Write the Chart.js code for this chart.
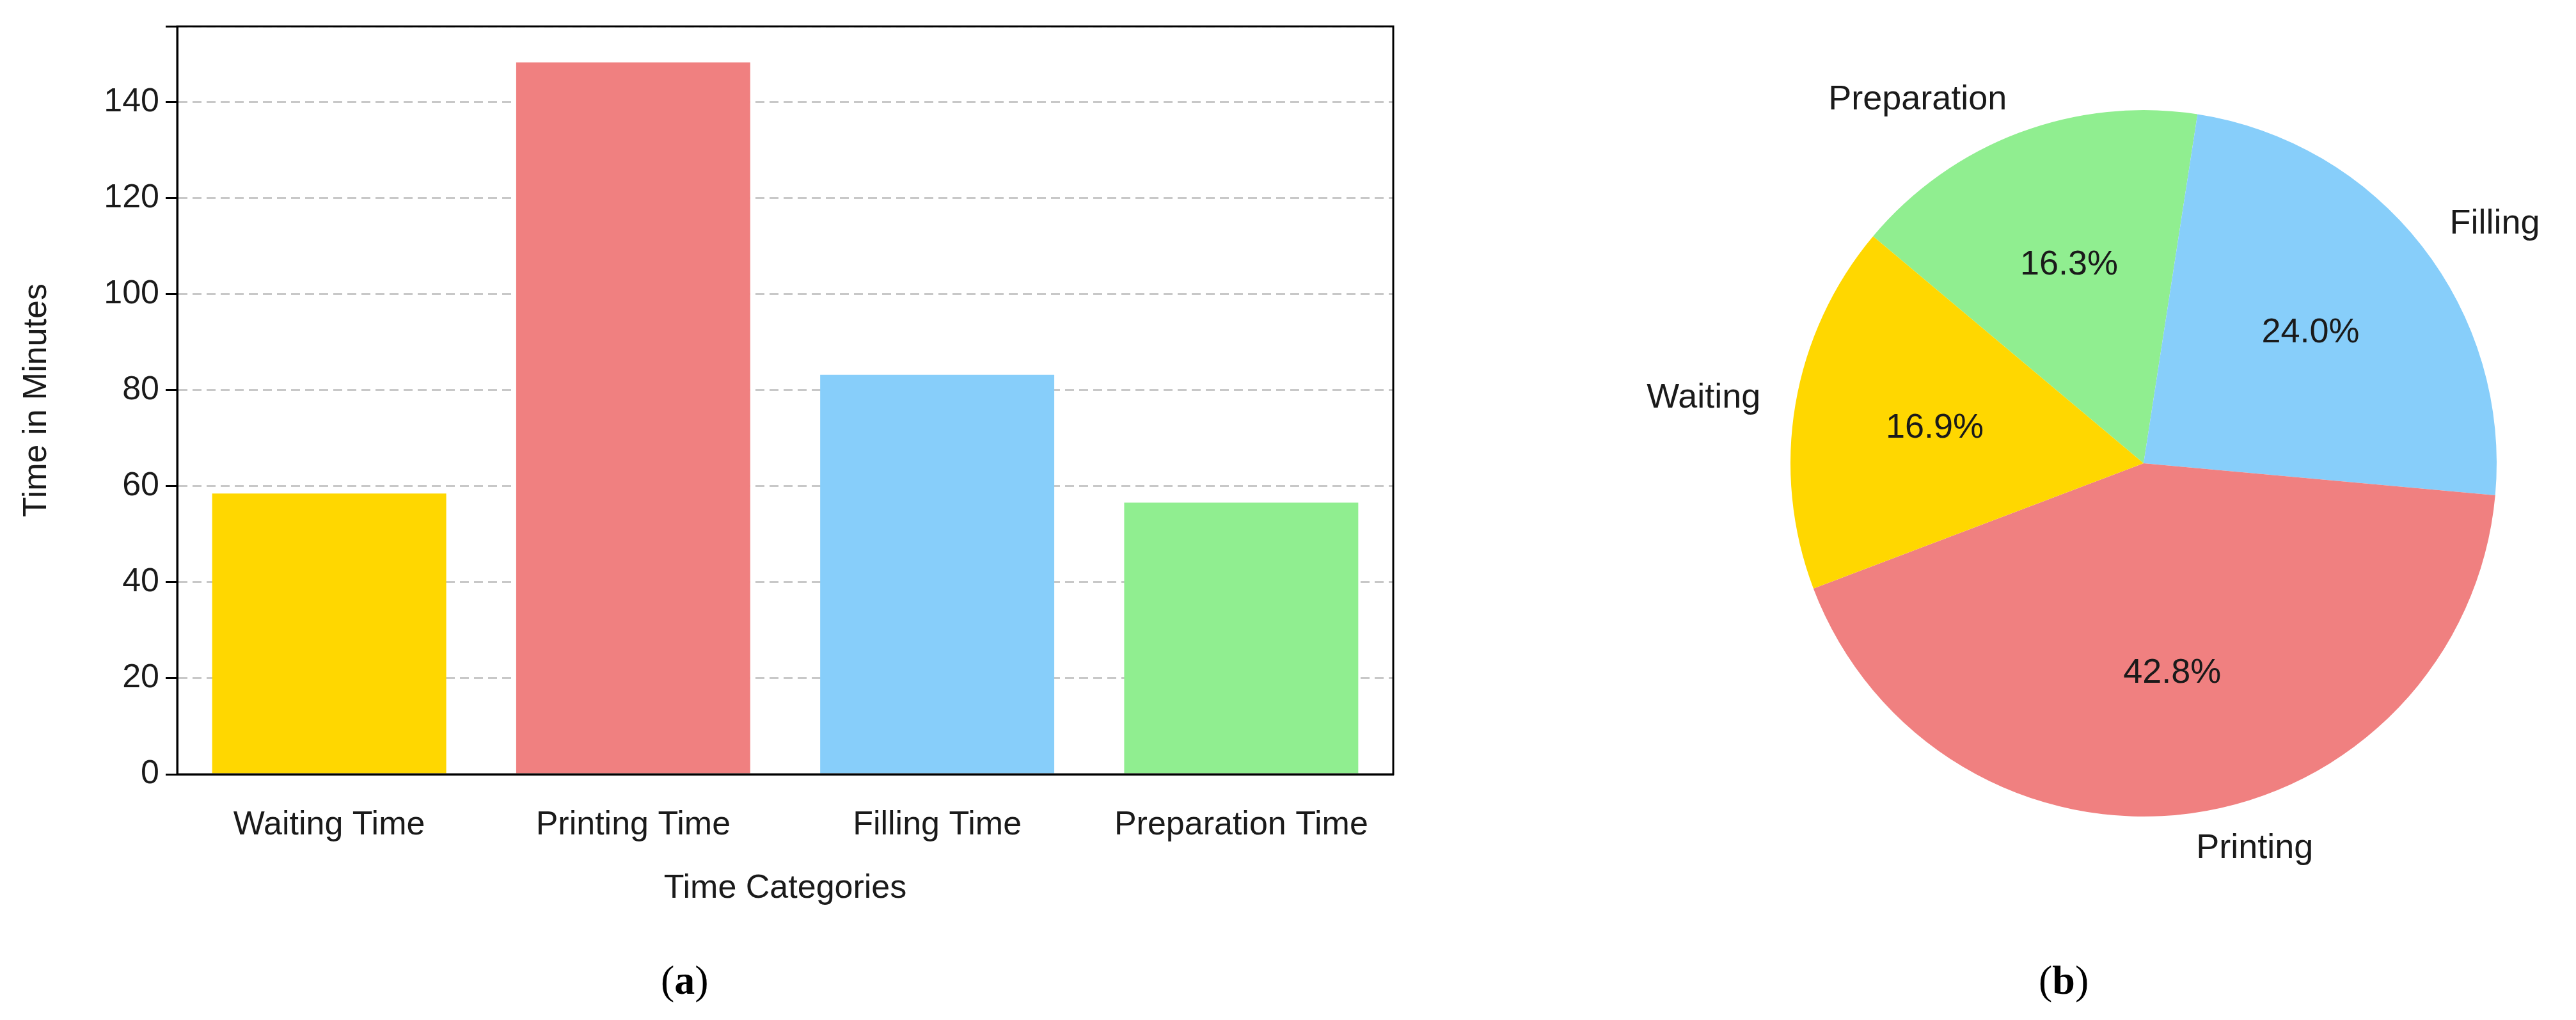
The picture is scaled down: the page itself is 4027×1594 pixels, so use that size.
<!DOCTYPE html>
<html><head><meta charset="utf-8">
<script src="https://cdn.jsdelivr.net/npm/chart.js@4"></script>
<style>
body{margin:0;background:#fff;width:4027px;height:1594px;position:relative;overflow:hidden}
canvas{position:absolute}
.cap{position:absolute;font-family:"Liberation Serif",serif;font-size:64px;color:#000}
</style></head><body>
<div id="b1" style="position:absolute;left:0;top:0;width:2200px;height:1424px"><canvas id="bar"></canvas></div>
<div id="b2" style="position:absolute;left:2200px;top:0;width:1827px;height:1594px"><canvas id="pie"></canvas></div>
<div class="cap" style="left:1033px;top:1495px">(<b>a</b>)</div>
<div class="cap" style="left:3187px;top:1495px">(<b>b</b>)</div>
<script>
const categories=["Waiting Time","Printing Time","Filling Time","Preparation Time"];
const values=[58.5,148.3,83.2,56.6];
const pieLabels=["Waiting","Printing","Filling","Preparation"];
const colors=["#FFD700","#F08080","#87CEFA","#90EE90"];
const FONT="'Liberation Sans', Arial, sans-serif";
Chart.defaults.font.family=FONT;
Chart.defaults.color="#1a1a1a";
Chart.defaults.animation=false;

const frame={id:'frame',afterDraw(c){const a=c.chartArea,x=c.ctx;x.save();x.strokeStyle='#000';x.lineWidth=3;x.strokeRect(a.left,a.top,a.right-a.left,a.bottom-a.top);x.restore();}};
new Chart(document.getElementById('bar'),{type:'bar',
data:{labels:categories,datasets:[{data:values,backgroundColor:colors,categoryPercentage:1,barPercentage:0.77}]},
options:{responsive:true,maintainAspectRatio:false,devicePixelRatio:1,
layout:{padding:{top:26,right:22,left:22,bottom:0}},
plugins:{legend:{display:false},tooltip:{enabled:false}},
scales:{
 x:{grid:{display:false,drawTicks:true,tickLength:18},border:{color:'#000',width:3},
   ticks:{font:{size:52},color:'#1a1a1a',padding:30},
   title:{display:true,text:'Time Categories',font:{size:52},color:'#1a1a1a',padding:{top:36}},
   afterFit(s){s.height=214;}},
 y:{min:0,max:155.8,ticks:{stepSize:20,font:{size:52},color:'#1a1a1a',padding:10,callback:v=>v%20===0&&v<=140?v:''},
   grid:{color:'#c8c8c8',lineWidth:3,tickColor:'#000',tickLength:18,drawOnChartArea:true},
   border:{color:'#000',width:3,dash:[14,8]},
   title:{display:true,text:'Time in Minutes',font:{size:52},color:'#1a1a1a',padding:{bottom:8}},
   afterFit(s){s.width=255;}}
}},plugins:[frame]});

const total=values.reduce((a,b)=>a+b,0);
const order=[3,2,1,0];
const pieLab={id:'pieLab',afterDraw(c){const x=c.ctx;const meta=c.getDatasetMeta(0);x.save();x.fillStyle='#1a1a1a';x.font="54px "+FONT;x.textBaseline='middle';
 meta.data.forEach((arc,i)=>{const k=order[i];const p=arc.getProps(['x','y','startAngle','endAngle','outerRadius'],true);
  const m=(p.startAngle+p.endAngle)/2;
  x.textAlign='center';x.fillText((values[k]/total*100).toFixed(1)+'%',p.x+Math.cos(m)*p.outerRadius*0.6,p.y+Math.sin(m)*p.outerRadius*0.6);
  const lx=p.x+Math.cos(m)*p.outerRadius*1.1,ly=p.y+Math.sin(m)*p.outerRadius*1.1;
  x.textAlign=Math.cos(m)>=0?'left':'right';x.fillText(pieLabels[k],lx,ly);});
 x.restore();}};
new Chart(document.getElementById('pie'),{type:'pie',
data:{labels:order.map(i=>pieLabels[i]),datasets:[{data:order.map(i=>values[i]),backgroundColor:order.map(i=>colors[i]),borderWidth:0}]},
options:{responsive:true,maintainAspectRatio:false,devicePixelRatio:1,rotation:-50,
layout:{padding:{left:599,right:124,top:172,bottom:318}},
plugins:{legend:{display:false},tooltip:{enabled:false}}},plugins:[pieLab]});
</script></body></html>
